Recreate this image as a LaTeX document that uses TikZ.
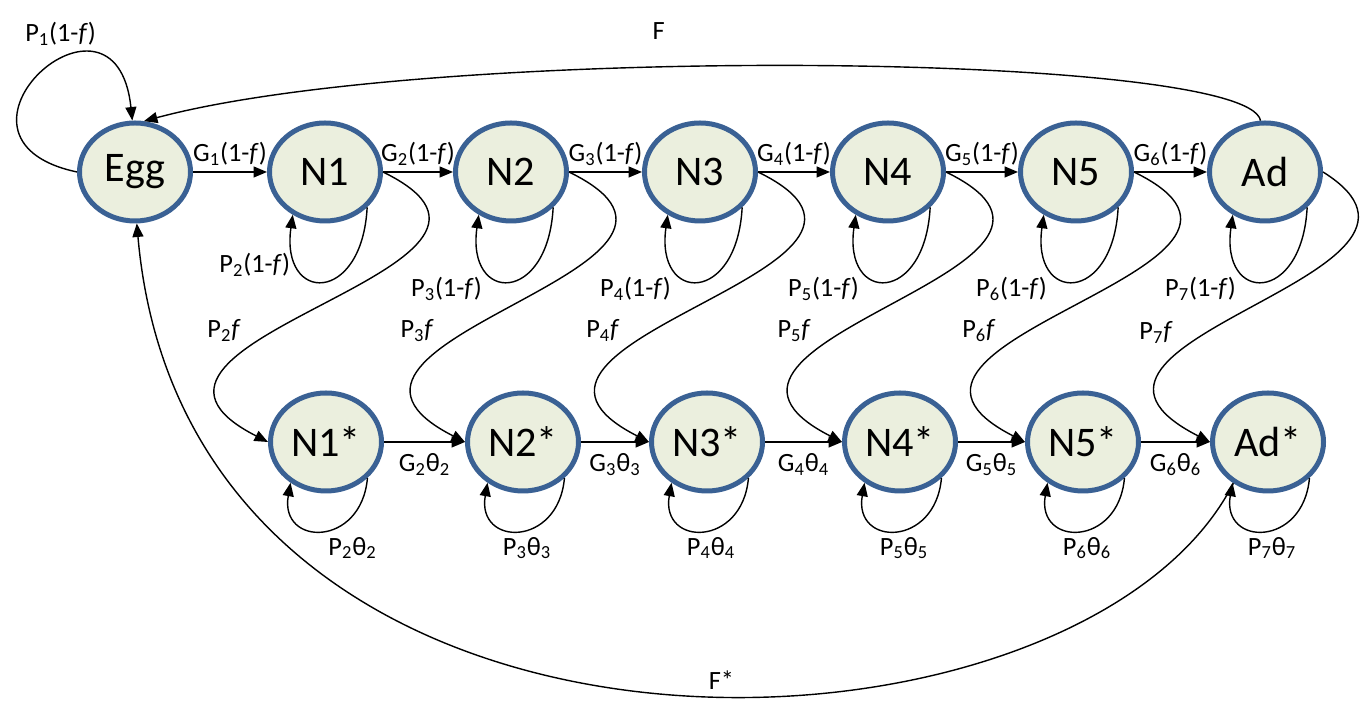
\documentclass[tikz,border=0pt]{standalone}
\usepackage{fontspec}
\setmainfont{Carlito}
\usepackage{tikz}
\usetikzlibrary{shapes.geometric,arrows.meta}
\definecolor{stageline}{HTML}{3A6194}
\definecolor{stagefill}{HTML}{EBEFDE}
\newcommand{\nf}{(1-\textit{f})}

\begin{document}
\begin{tikzpicture}[>={Triangle[length=0.27cm,width=0.22cm]},
  stage/.style={ellipse, draw=stageline, fill=stagefill, line width=0.1cm, minimum width=2.22cm, minimum height=1.96cm, inner sep=0pt, font=\fontsize{24}{28}\selectfont},
  lbl/.style={font=\fontsize{15}{18}\selectfont},
  link/.style={->, line width=0.8pt}]
\useasboundingbox (0,0) rectangle (27.34,14.04);
% top row
\node (egg) [stage] at (2.70,10.60) {Egg};
\node (n1) [stage] at (6.50,10.60) {N1};
\node (n2) [stage] at (10.22,10.60) {N2};
\node (n3) [stage] at (14.00,10.60) {N3};
\node (n4) [stage] at (17.76,10.60) {N4};
\node (n5) [stage] at (21.52,10.60) {N5};
\node (ad) [stage] at (25.30,10.60) {Ad};
% bottom row
\node (n1s) [stage] at (6.52,5.20) {N1*};
\node (n2s) [stage] at (10.46,5.20) {N2*};
\node (n3s) [stage] at (14.14,5.20) {N3*};
\node (n4s) [stage] at (18.00,5.20) {N4*};
\node (n5s) [stage] at (21.66,5.20) {N5*};
\node (ads) [stage] at (25.36,5.20) {Ad*};
% growth
\foreach \from/\to/\i in {egg/n1/1, n1/n2/2, n2/n3/3, n3/n4/4, n4/n5/5, n5/ad/6}
\draw[link] (\from) -- node[lbl,above] {G\textsubscript{\i}\nf} (\to);
\foreach \from/\to/\i in {n1s/n2s/2, n2s/n3s/3, n3s/n4s/4, n4s/n5s/5, n5s/ads/6}
\draw[link] (\from) -- node[lbl,below=3pt] {G\textsubscript{\i}θ\textsubscript{\i}} (\to);
% staying
\draw[link] (egg.west) .. controls +(168:3.2) and +(96:3.18) .. node[lbl,pos=0.6,above=5pt] {P\textsubscript{1}\nf} (egg.93);
\draw[link] (n1.-40) .. controls +(-93:1.95) and +(-98:1.8) .. node[lbl,pos=0.75,left=1pt] {P\textsubscript{2}\nf} (n1.-127);
\foreach \n/\i in {n2/3, n3/4, n4/5, n5/6, ad/7}
\draw[link] (\n.-40) .. controls +(-93:1.95) and +(-98:1.8) .. node[lbl,pos=0.7,anchor=north east] {P\textsubscript{\i}\nf} (\n.-127);
\draw[link] (n1s.-41) .. controls +(-95:1.4) and +(-100:1.3) .. node[lbl,below,xshift=0.6cm] {P\textsubscript{2}θ\textsubscript{2}} (n1s.-131);
\foreach \n/\i in {n2s/3, n3s/4, n4s/5, n5s/6, ads/7}
\draw[link] (\n.-41) .. controls +(-95:1.4) and +(-100:1.3) .. node[lbl,below,xshift=0.15cm] {P\textsubscript{\i}θ\textsubscript{\i}} (\n.-131);
% to the starred stages
\foreach \t/\b/\i in {n1/n1s/2, n2/n2s/3, n3/n3s/4, n4/n4s/5, n5/n5s/6}
\draw[link] (\t.east) .. controls +(-26:4.4) and +(153:4.5) .. node[lbl,pos=0.6,left=18pt] {P\textsubscript{\i}\textit{f}} (\b.west);
\draw[link] (ad.east) .. controls +(-32:3.9) and +(153:4.5) .. node[lbl,pos=0.6,left=18pt] {P\textsubscript{7}\textit{f}} (ads.west);
% fecundity
\draw[link] (ad.95) .. controls +(100:1.4) and +(15:6) .. node[lbl,pos=0.6,above=12pt] {F} (egg.80);
\draw[link] (ads.-130) .. controls +(-117:6.8) and +(-85:12) .. node[lbl,pos=0.45,above] {F*} (egg.-88);
\end{tikzpicture}
\end{document}
